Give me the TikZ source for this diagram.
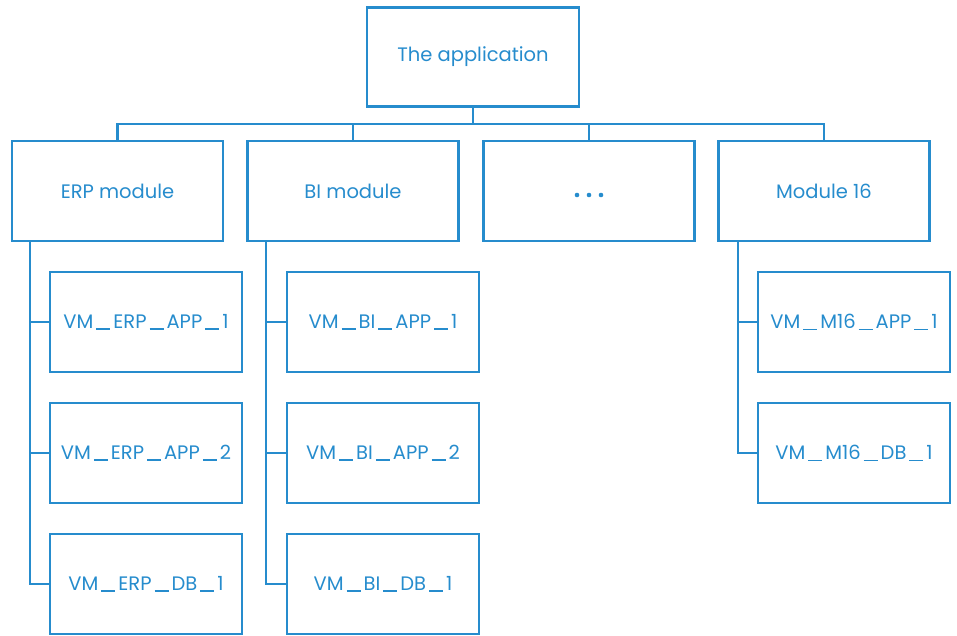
\documentclass[tikz,border=0pt]{standalone}
\usepackage{fontspec}
\setmainfont{Poppins}
\definecolor{vmblue}{RGB}{38,140,205}
\newcommand{\us}{\hspace{3pt}\rule[-1.2pt]{14pt}{1.3pt}\hspace{3pt}}
\begin{document}
\begin{tikzpicture}[x=1pt,y=-1pt,
  box/.style={draw=vmblue,line width=2.4pt,rectangle,inner sep=0pt,text=vmblue,font=\fontsize{19.5}{22}\selectfont},
  link/.style={draw=vmblue,line width=2.4pt},
  dot/.style={fill=vmblue,draw=none}]
\useasboundingbox (0,0) rectangle (957,635);
\node[box,minimum width=212pt,minimum height=99pt] (app) at (473,57) {The application};
\foreach \n/\x/\t in {erp/117.5/ERP module,bi/353/BI module,dots/589/{},m16/824/Module 16}
  \node[box,minimum width=211pt,minimum height=100pt] (\n) at (\x,191) {\t};
\foreach \dx in {-12,0,12} \fill[dot] ([xshift=\dx pt,yshift=-4pt]dots.center) circle (2.3pt);
\foreach \n/\y/\t in {1/322/VM\us ERP\us APP\us 1,2/453/VM\us ERP\us APP\us 2,3/584/VM\us ERP\us DB\us 1}
  \node[box,minimum width=192pt,minimum height=100pt] (erp\n) at (146,\y) {\t};
\foreach \n/\y/\t in {1/322/VM\us BI\us APP\us 1,2/453/VM\us BI\us APP\us 2,3/584/VM\us BI\us DB\us 1}
  \node[box,minimum width=192pt,minimum height=100pt] (bi\n) at (383,\y) {\t};
\foreach \n/\y/\t in {1/322/VM\us M16\us APP\us 1,2/453/VM\us M16\us DB\us 1}
  \node[box,minimum width=192pt,minimum height=100pt] (m16\n) at (854,\y) {\t};
\coordinate (bar) at (0,124);
\draw[link] (app.south) -- (app.south |- bar);
\draw[link] (erp.north) -- (erp.north |- bar) -- (m16.north |- bar) -- (m16.north);
\draw[link] (bi.north) -- (bi.north |- bar);
\draw[link] (dots.north) -- (dots.north |- bar);
\foreach \p/\x/\last in {erp/30/3,bi/266/3,m16/738/2}{
  \draw[link] (\x,241) -- (\x,0 |- \p\last.west) -- (\p\last.west);
  \foreach \i in {1,...,\last} \draw[link] (\x,0 |- \p\i.west) -- (\p\i.west);
}
\end{tikzpicture}
\end{document}
